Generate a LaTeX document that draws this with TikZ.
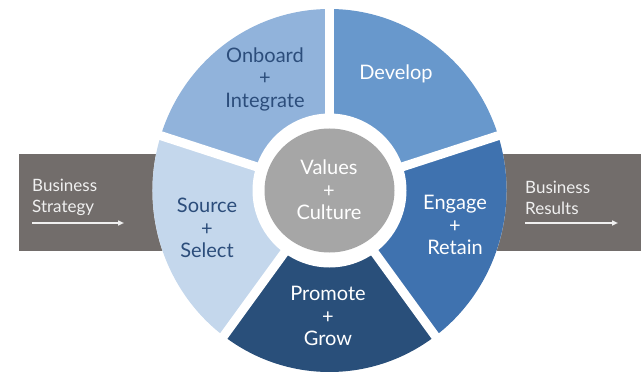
\documentclass[tikz,border=0pt]{standalone}
\usepackage{fontspec}
\setmainfont{Lato}
\usetikzlibrary{arrows.meta}
\definecolor{bandgray}{RGB}{114,109,107}
\definecolor{coregray}{RGB}{166,166,166}
\definecolor{segA}{RGB}{145,179,219}
\definecolor{segB}{RGB}{104,152,204}
\definecolor{segC}{RGB}{63,114,175}
\definecolor{segD}{RGB}{41,79,122}
\definecolor{segE}{RGB}{196,215,236}
\definecolor{darktext}{RGB}{44,77,123}
\definecolor{bandtext}{RGB}{240,240,240}
\tikzset{
  segtext/.style={align=center, inner sep=0pt, font=\fontsize{20}{22.5}\selectfont},
  bandlabel/.style={align=left, anchor=west, inner sep=0pt, text=bandtext, font=\fontsize{17}{21}\selectfont},
  flowarrow/.style={draw=bandtext, line width=1.5pt, -{Triangle[length=6pt,width=5pt]}},
  gapline/.style={draw=white, line width=9pt}
}
\begin{document}
\begin{tikzpicture}[x=1pt,y=1pt]
\useasboundingbox (0,0) rectangle (641,373);
% band
\fill[bandgray] (19,122) rectangle (641,219);
\coordinate (C) at (329.5,182.5);
% white disc
\fill[white] (C) ellipse[x radius=177, y radius=181.5];
% segments
\fill[segA] (C) -- ++(90:177 and 181.5) arc[start angle=90, end angle=162, x radius=177, y radius=181.5] -- cycle;
\fill[segE] (C) -- ++(162:177 and 181.5) arc[start angle=162, end angle=234, x radius=177, y radius=181.5] -- cycle;
\fill[segD] (C) -- ++(234:177 and 181.5) arc[start angle=234, end angle=306, x radius=177, y radius=181.5] -- cycle;
\fill[segC] (C) -- ++(306:177 and 181.5) arc[start angle=306, end angle=378, x radius=177, y radius=181.5] -- cycle;
\fill[segB] (C) -- ++(18:177 and 181.5) arc[start angle=18, end angle=90, x radius=177, y radius=181.5] -- cycle;
% gaps
\foreach \a in {18,90,162,234,306} {
  \draw[gapline] (C) -- ++(\a:195);
}
\fill[white] (C) ellipse[x radius=77, y radius=77];
\fill[coregray] (C) ellipse[x radius=65, y radius=62];
% texts
\node[segtext, text=darktext] (onboard) at (265,294) {Onboard\\+\\Integrate};
\node[segtext, text=white] (develop) at (396,299) {Develop};
\node[segtext, text=darktext] (source) at (207,145) {Source\\+\\Select};
\node[segtext, text=white] (values) at (329,183) {Values\\+\\Culture};
\node[segtext, text=white] (engage) at (455,148) {Engage\\+\\Retain};
\node[segtext, text=white] (promote) at (328,57) {Promote\\+\\Grow};
% band labels
\node[bandlabel] (strategy) at (32,175.5) {Business\\Strategy};
\node[bandlabel] (results) at (525,175.5) {Business\\Results};
\coordinate (sa) at (32,150);
\coordinate (sb) at (124,150);
\coordinate (ra) at (525,150);
\coordinate (rb) at (618,150);
\draw[flowarrow] (sa) -- (sb);
\draw[flowarrow] (ra) -- (rb);
\end{tikzpicture}
\end{document}
